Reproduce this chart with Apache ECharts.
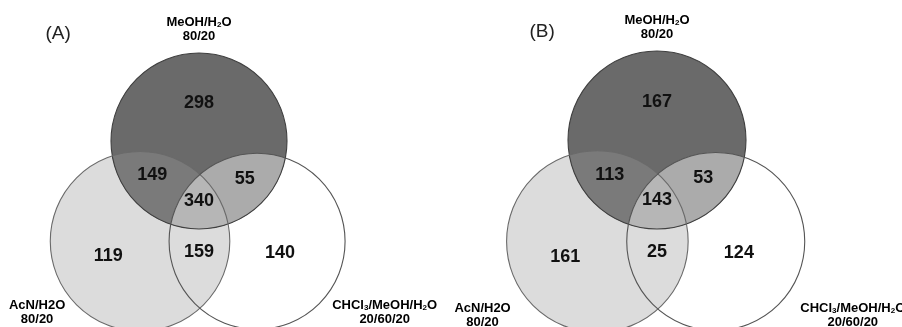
<!DOCTYPE html>
<html>
<head>
<meta charset="utf-8">
<script src="https://cdn.jsdelivr.net/npm/echarts@6/dist/echarts.min.js"></script>
<style>
  html, body { margin: 0; padding: 0; background: #fff; }
  #chart { width: 902px; height: 327px; }
</style>
</head>
<body>
<div id="chart"></div>
<script>
// Panel letters
const panelTitles = ['(A)', '(B)'];

// Extraction solvent sets (rich text: {s|..} marks subscripts)
const setTop = '{b|MeOH/H}{s|2}{b|O}\n{b|80/20}';
const setLeft = '{b|AcN/H2O}\n{b|80/20}';
const setRight = '{b|CHCl}{s|3}{b|/MeOH/H}{s|2}{b|O}\n{b|20/60/20}';

// Region order: MeOH only, MeOH∩AcN, MeOH∩CHCl3, all three, AcN only, AcN∩CHCl3, CHCl3 only
const regions = ['MeOH', 'MeOH+AcN', 'MeOH+CHCl3', 'All', 'AcN', 'AcN+CHCl3', 'CHCl3'];
const countsA = [298, 149, 55, 340, 119, 159, 140];
const countsB = [167, 113, 53, 143, 161, 25, 124];

// ---- layout (unit = circle radius, origin = centre of the top circle) ----
// circles: top (MeOH), left (AcN), right (CHCl3)
const circleLayout = [
  { c: [0, 0, 1], fill: '#6a6a6a', stroke: '#3f3f3f' },
  { c: [-0.67, -1.14, 1.02], fill: '#dcdcdc', stroke: '#6a6a6a' },
  { c: [0.66, -1.14, 1.0], fill: '#ffffff', stroke: '#555555' }
];
const fillOrder = [2, 1, 0];
const overlapLayout = [
  { members: [0, 1], fill: '#7a7a7a' },
  { members: [0, 2], fill: '#ababab' },
  { members: [0, 1, 2], fill: '#b6b6b6' }
];
const regionLabelPos = [
  [0, 0.43], [-0.53, -0.39], [0.52, -0.43], [0, -0.68],
  [-1.03, -1.31], [0, -1.26], [0.92, -1.27]
];
const panelLayout = [
  { grid: { left: 23, top: 9, width: 396, height: 308 },
    setPos: [[0, 1.27], [-1.84, -1.95], [2.11, -1.95]], titlePos: [-1.6, 1.22] },
  { grid: { left: 479, top: 6.5, width: 400.5, height: 311.5 },
    setPos: [[0, 1.27], [-1.96, -1.97], [2.2, -1.97]], titlePos: [-1.29, 1.22] }
];

const richStyle = {
  b: { fontFamily: 'Liberation Sans', fontWeight: 'bold', fontSize: 13, lineHeight: 14, color: '#222' },
  s: { fontFamily: 'Liberation Sans', fontWeight: 'bold', fontSize: 8, lineHeight: 14, padding: [5, 0, 0, 0], color: '#222' }
};

// circle in pixel space through the axes of the current grid
function circlePx(api, c) {
  const p = api.coord([c[0], c[1]]);
  return { x: p[0], y: p[1], r: api.size([c[2], 0])[0] };
}

// intersection of disks (convex) as a polygon: boundary samples lying inside every other disk
function intersectionPolygon(cs) {
  const pts = [];
  const n = 720;
  cs.forEach(function (c, i) {
    for (let k = 0; k < n; k++) {
      const a = k / n * Math.PI * 2;
      const x = c.x + c.r * Math.cos(a), y = c.y + c.r * Math.sin(a);
      const inside = cs.every(function (d, j) {
        return j === i || (x - d.x) * (x - d.x) + (y - d.y) * (y - d.y) <= d.r * d.r;
      });
      if (inside) pts.push([x, y]);
    }
  });
  let mx = 0, my = 0;
  pts.forEach(function (p) { mx += p[0]; my += p[1]; });
  mx /= pts.length; my /= pts.length;
  pts.sort(function (p, q) {
    return Math.atan2(p[1] - my, p[0] - mx) - Math.atan2(q[1] - my, q[0] - mx);
  });
  return pts;
}

const grids = [], xAxes = [], yAxes = [], series = [];

panelLayout.forEach(function (p, i) {
  grids.push(Object.assign({ containLabel: false }, p.grid));
  xAxes.push({ type: 'value', gridIndex: i, min: -2, max: 2.5, show: false });
  yAxes.push({ type: 'value', gridIndex: i, min: -2, max: 1.5, show: false });

  // circle fills
  series.push({
    type: 'custom', xAxisIndex: i, yAxisIndex: i, silent: true,
    data: fillOrder.map(function (k) { return circleLayout[k].c.slice(); }),
    renderItem: function (params, api) {
      const spec = circleLayout[fillOrder[params.dataIndex]];
      const c = circlePx(api, [api.value(0), api.value(1), api.value(2)]);
      return { type: 'circle', shape: { cx: c.x, cy: c.y, r: c.r }, style: { fill: spec.fill } };
    }
  });

  // overlap shading
  series.push({
    type: 'custom', xAxisIndex: i, yAxisIndex: i, silent: true,
    data: overlapLayout.map(function (o) { return circleLayout[o.members[0]].c.slice(0, 2); }),
    renderItem: function (params, api) {
      const o = overlapLayout[params.dataIndex];
      const cs = o.members.map(function (m) { return circlePx(api, circleLayout[m].c); });
      return { type: 'polygon', shape: { points: intersectionPolygon(cs) }, style: { fill: o.fill } };
    }
  });

  // circle outlines
  series.push({
    type: 'custom', xAxisIndex: i, yAxisIndex: i, silent: true,
    data: circleLayout.map(function (s) { return s.c.slice(); }),
    renderItem: function (params, api) {
      const spec = circleLayout[params.dataIndex];
      const c = circlePx(api, [api.value(0), api.value(1), api.value(2)]);
      return {
        type: 'circle', shape: { cx: c.x, cy: c.y, r: c.r },
        style: { fill: 'none', stroke: spec.stroke, lineWidth: 1.1 }
      };
    }
  });

  // region counts
  const counts = i === 0 ? countsA : countsB;
  series.push({
    type: 'custom', xAxisIndex: i, yAxisIndex: i, silent: true,
    data: counts.map(function (v, k) { return [regionLabelPos[k][0], regionLabelPos[k][1], v]; }),
    renderItem: function (params, api) {
      const pt = api.coord([api.value(0), api.value(1)]);
      return {
        type: 'text',
        style: {
          x: pt[0], y: pt[1], text: String(api.value(2)),
          fontFamily: 'Liberation Sans', fontWeight: 'bold', fontSize: 18,
          fill: '#111', align: 'center', verticalAlign: 'middle'
        }
      };
    }
  });

  // set names + panel letter
  const names = [setTop, setLeft, setRight];
  series.push({
    type: 'custom', xAxisIndex: i, yAxisIndex: i, silent: true,
    data: p.setPos.concat([p.titlePos]),
    renderItem: function (params, api) {
      const pt = api.coord([api.value(0), api.value(1)]);
      if (params.dataIndex === 3) {
        return {
          type: 'text',
          style: {
            x: pt[0], y: pt[1], text: panelTitles[i],
            fontFamily: 'Liberation Sans', fontSize: 19, fill: '#222',
            align: 'center', verticalAlign: 'middle'
          }
        };
      }
      return {
        type: 'text',
        style: {
          x: pt[0], y: pt[1], text: names[params.dataIndex],
          rich: richStyle, align: 'center', verticalAlign: 'middle'
        }
      };
    }
  });
});

const chart = echarts.init(document.getElementById('chart'), null, { renderer: 'canvas' });
chart.setOption({
  animation: false,
  backgroundColor: '#fff',
  grid: grids,
  xAxis: xAxes,
  yAxis: yAxes,
  series: series
});
</script>
</body>
</html>
